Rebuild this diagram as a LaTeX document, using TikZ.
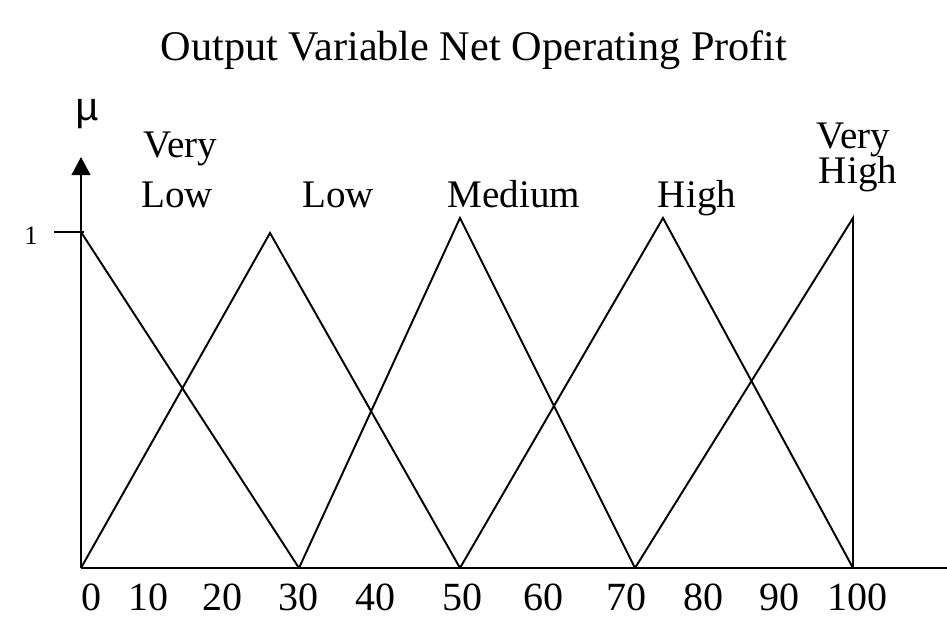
\documentclass[tikz,border=0pt]{standalone}
\usepackage{fontspec}
\setmainfont{Liberation Serif}
\newfontfamily\mufont{Liberation Mono}
\usetikzlibrary{arrows.meta}

\tikzset{
  setname/.style={font=\fontsize{29.3}{33}\selectfont,anchor=base},
  ticklabel/.style={font=\fontsize{30}{34}\selectfont,anchor=base}
}

\begin{document}
\begin{tikzpicture}[x=0.75pt,y=-0.75pt,line width=1.45pt]
  \useasboundingbox (0,0) rectangle (947,617);
  % title
  \node[font=\fontsize{31.7}{36}\selectfont,anchor=base] (title) at (474,61)
    {Output Variable Net Operating Profit};
  % axes
  \draw (81,568) -- (947,568);
  \draw[-{Triangle[length=13.5pt,width=14pt]}] (81,568) -- (81,157);
  \draw (54,232) -- (84,232);
  \node[font=\fontsize{20}{24}\selectfont] (one) at (31,236) {1};
  \node[font=\fontsize{30}{34}\selectfont\mufont] (mu) at (88,114) {μ};
  \foreach \v/\x in {0/91, 10/148, 20/222, 30/298, 40/375, 50/462,
                     60/543, 70/626, 80/703, 90/779, 100/857}
    \node[ticklabel] (x\v) at (\x,610) {\v};
  % membership functions
  \draw (81,232) -- (299,568);
  \draw (81,568) -- (270,233) -- (460,568);
  \draw (299,568) -- (460,218) -- (635,568);
  \draw (460,568) -- (663,218) -- (853,568);
  \draw (635,568) -- (853,218) -- (853,568);
  % set names
  \node[setname] (vl1) at (180,157) {Very};
  \node[setname] (vl2) at (177,207) {Low};
  \node[setname] (lo) at (338,207) {Low};
  \node[setname] (me) at (514,207) {Medium};
  \node[setname] (hi) at (697,207) {High};
  \node[setname] (vh1) at (853,148) {Very};
  \node[setname] (vh2) at (858,183) {High};
\end{tikzpicture}
\end{document}
